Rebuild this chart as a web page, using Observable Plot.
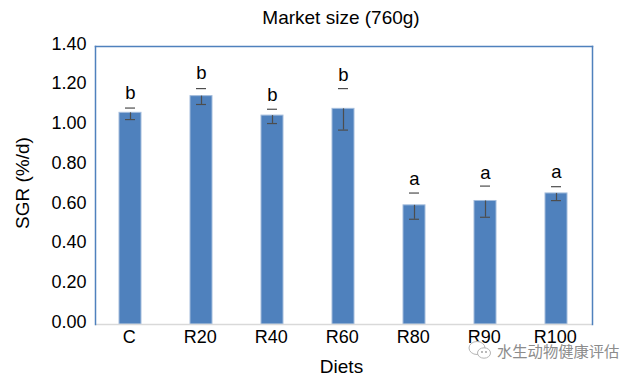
<!DOCTYPE html>
<html>
<head>
<meta charset="utf-8">
<script src="https://cdn.jsdelivr.net/npm/d3@7"></script>
<script src="https://cdn.jsdelivr.net/npm/@observablehq/plot@0.6"></script>
<style>
html,body{margin:0;padding:0;background:#fff;overflow:hidden}
#wrap{position:relative;width:640px;height:377px}
#wm{position:absolute;left:467px;top:339px;height:22px;display:flex;align-items:center;gap:4px;font:15.3px "Noto Sans CJK SC";color:#8c8c8c;white-space:nowrap;text-shadow:0 0 2px #fff,0 0 2px #fff}
</style>
</head>
<body>
<div id="wrap"></div>
<script>
const diets = ["C","R20","R40","R60","R80","R90","R100"];
const sgr = [1.066,1.150,1.052,1.086,0.600,0.622,0.660];
const errUpper = [1.090,1.188,1.084,1.188,0.662,0.697,0.694];
const errLower = [1.032,1.108,1.012,0.979,0.530,0.540,0.624];
const letters = ["b","b","b","b","a","a","a"];
const letterY = [1.166,1.266,1.155,1.258,0.730,0.762,0.767];
const yTicks = [0,0.2,0.4,0.6,0.8,1.0,1.2,1.4];

const rows = diets.map((d,i)=>({d,v:sgr[i],up:errUpper[i],lo:errLower[i],l:letters[i],ly:letterY[i]}));
const font = "Liberation Sans, Arial, sans-serif";
const blue = "#4f81bd";

const chart = Plot.plot({
  width:640,height:377,
  marginLeft:95,marginRight:48,marginTop:46,marginBottom:53,
  style:{fontFamily:font,background:"#fff",color:"#000"},
  x:{domain:diets,paddingInner:0.69,paddingOuter:0.345},
  y:{domain:[0,1.4]},
  marks:[
    Plot.barY(rows,{x:"d",y:"v",fill:blue,stroke:"#a3bcdc",strokeWidth:1}),
    Plot.ruleX(rows,{x:"d",y1:"v",y2:"lo",stroke:"#4d4d4d",strokeWidth:1.2}),
    Plot.tickY(rows,{x:"d",y:"lo",stroke:"#4d4d4d",strokeWidth:1.2,insetLeft:6,insetRight:6}),
    Plot.tickY(rows,{x:"d",y:"up",stroke:"#4d4d4d",strokeWidth:1.2,insetLeft:6,insetRight:6}),
    Plot.text(rows,{x:"d",y:"ly",text:"l",fontSize:18.5,fill:"#000"}),
    Plot.ruleY([0],{stroke:"#d9d9d9",strokeWidth:1.5}),
    Plot.frame({anchor:"top",stroke:blue,strokeWidth:1.5}),
    Plot.frame({anchor:"left",stroke:blue,strokeWidth:1.5}),
    Plot.frame({anchor:"right",stroke:blue,strokeWidth:1.5}),
    Plot.axisY({ticks:yTicks,tickSize:0,tickPadding:9,dy:-2.5,fontSize:18,tickFormat:d=>d.toFixed(2),label:null}),
    Plot.axisX({tickSize:0,tickPadding:5,dx:-1.3,dy:0.5,fontSize:18,label:null}),
  ]
});
const svg = d3.select(chart);
svg.attr("font-family",font);
const add=(t,x,y,size,rot)=>svg.append("text").text(t).attr("x",x).attr("y",y)
  .attr("text-anchor","middle").attr("dominant-baseline","central")
  .attr("font-size",size).attr("fill","#000")
  .attr("transform",rot?`rotate(${rot} ${x} ${y})`:null);
add("Market size (760g)",341,17,19);
add("SGR (%/d)",22,183,19,-90);
add("Diets",341.5,366,19);
document.getElementById("wrap").appendChild(chart);

const wm=document.createElement("div");
wm.id="wm";
wm.innerHTML=`<svg width="26" height="22" viewBox="0 0 26 22"><ellipse cx="10" cy="9" rx="8" ry="6.5" fill="#fff" stroke="#b5b5b5"/><ellipse cx="17" cy="14" rx="6.5" ry="5.2" fill="#fff" stroke="#b5b5b5"/><circle cx="15" cy="13" r="0.9" fill="#999"/><circle cx="19" cy="13" r="0.9" fill="#999"/></svg><span>水生动物健康评估</span>`;
document.getElementById("wrap").appendChild(wm);
</script>
</body>
</html>
